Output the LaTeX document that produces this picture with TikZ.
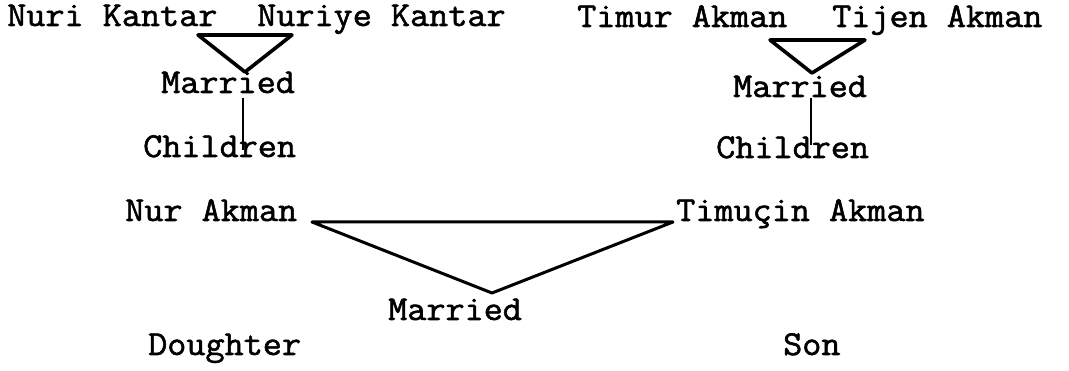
\documentclass[tikz,border=0pt]{standalone}
\usepackage{fontspec}
\setmonofont[FakeBold=1.6,FakeStretch=1.06]{Latin Modern Mono}
\begin{document}
\begin{tikzpicture}[x=1pt,y=-1pt,
  lbl/.style={anchor=base west,inner sep=0pt,font=\ttfamily\fontsize{35}{38}\selectfont},
  tri/.style={line width=3.6pt,line join=round,line cap=round},
  thin/.style={line width=2.4pt},
  big/.style={line width=3pt,line join=round,line cap=round}]
\useasboundingbox (0,0) rectangle (1069,371);
% names
\node[lbl] (nuri) at (7,26) {Nuri Kantar};
\node[lbl] (nuriye) at (257,26) {Nuriye Kantar};
\node[lbl] (timur) at (577,27) {Timur Akman};
\node[lbl] (tijen) at (832,27) {Tijen Akman};
\node[lbl] (marL) at (161,93) {Married};
\node[lbl] (chL) at (143,157) {Children};
\node[lbl] (marR) at (733,97) {Married};
\node[lbl] (chR) at (716,158) {Children};
\node[lbl] (nur) at (125,221) {Nur Akman};
\node[lbl] (timucin) at (676,221) {Timuçin Akman};
\node[lbl] (marB) at (388,320) {Married};
\node[lbl] (dau) at (148,355) {Doughter};
\node[lbl] (son) at (783,355) {Son};
% triangle vertices
\coordinate (l1) at (198,35);
\coordinate (l2) at (292,35);
\coordinate (l3) at (245,72);
\coordinate (r1) at (770,40);
\coordinate (r2) at (865,40);
\coordinate (r3) at (812,73);
\coordinate (b1) at (312,222);
\coordinate (b2) at (673,222);
\coordinate (b3) at (492,293);
\draw[tri] (l1) -- (l2) -- (l3) -- cycle;
\draw[tri] (r1) -- (r2) -- (r3) -- cycle;
\draw[big] (b1) -- (b2) -- (b3) -- cycle;
\draw[thin] (243,98) -- (243,150);
\draw[thin] (811,98) -- (811,145);
\end{tikzpicture}
\end{document}
